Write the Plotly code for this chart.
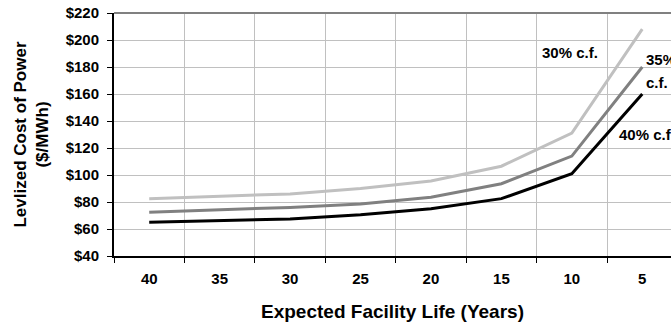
import plotly.graph_objects as go

years = ["40", "35", "30", "25", "20", "15", "10", "5"]
cf30 = [82.5, 84.5, 86, 90, 95.5, 106.5, 131, 208]
cf35 = [72.5, 74, 76, 78.5, 83.5, 93.5, 114, 180]
cf40 = [65, 66, 67.5, 70.5, 75, 82.5, 101, 160]

FONT = "Liberation Sans, Arial, sans-serif"

fig = go.Figure()
for vals, col in [(cf30, "#c0c0c0"), (cf35, "#808080"), (cf40, "#000000")]:
    fig.add_trace(go.Scatter(x=years, y=vals, mode="lines",
                             line=dict(color=col, width=3), showlegend=False))

ann_font = dict(family=FONT, size=15, color="#000")
fig.add_annotation(x=5.97, y=190.5, text="<b>30% c.f.</b>", showarrow=False,
                   xanchor="center", yanchor="middle", font=ann_font)
fig.add_annotation(x=7.02, y=185.4, text="<b>35%</b>", showarrow=False,
                   xanchor="left", yanchor="middle", font=ann_font)
fig.add_annotation(x=7.02, y=168.3, text="<b>c.f.</b>", showarrow=False,
                   xanchor="left", yanchor="middle", font=ann_font)
fig.add_annotation(x=6.64, y=129.8, text="<b>40% c.f.</b>", showarrow=False,
                   xanchor="left", yanchor="middle", font=ann_font)

# top border of plot area
fig.add_shape(type="line", xref="paper", yref="paper", x0=0, x1=1, y0=1, y1=1,
              line=dict(color="#808080", width=2))

fig.update_layout(
    width=671, height=327,
    margin=dict(l=113.5, r=0, t=13.3, b=71, autoexpand=False),
    paper_bgcolor="white", plot_bgcolor="white",
    font=dict(family=FONT, color="#000"),
)
fig.update_xaxes(
    type="category", range=[-0.5, 7.408], tickson="boundaries",
    showgrid=True, gridcolor="#c0c0c0", gridwidth=1,
    ticks="outside", ticklen=5, tickcolor="#000", tickwidth=1,
    showline=True, linecolor="#000", linewidth=2,
    tickfont=dict(family=FONT, size=15, color="#000"), ticklabelstandoff=8,
    tickprefix="<b>", ticksuffix="</b>", ticklabeloverflow="allow",
    title=dict(text="<b>Expected Facility Life (Years)</b>",
               font=dict(family=FONT, size=19, color="#000"), standoff=19),
    zeroline=False, automargin=False,
)
fig.update_yaxes(
    range=[40, 220], dtick=20, tick0=40,
    showgrid=True, gridcolor="#c0c0c0", gridwidth=1,
    ticks="outside", ticklen=5, tickcolor="#000", tickwidth=1,
    showline=True, linecolor="#000", linewidth=2,
    tickprefix="<b>$", ticksuffix="</b>", ticklabeloverflow="allow",
    tickfont=dict(family=FONT, size=15, color="#000"), ticklabelstandoff=5,
    title=dict(text="<b>Levlized Cost of Power<br>($/MWh)</b>",
               font=dict(family=FONT, size=17, color="#000"), standoff=13),
    zeroline=False, automargin=False,
)

fig.write_html("out.html", config={"displayModeBar": False},
               post_script="document.body.style.margin='0';")
